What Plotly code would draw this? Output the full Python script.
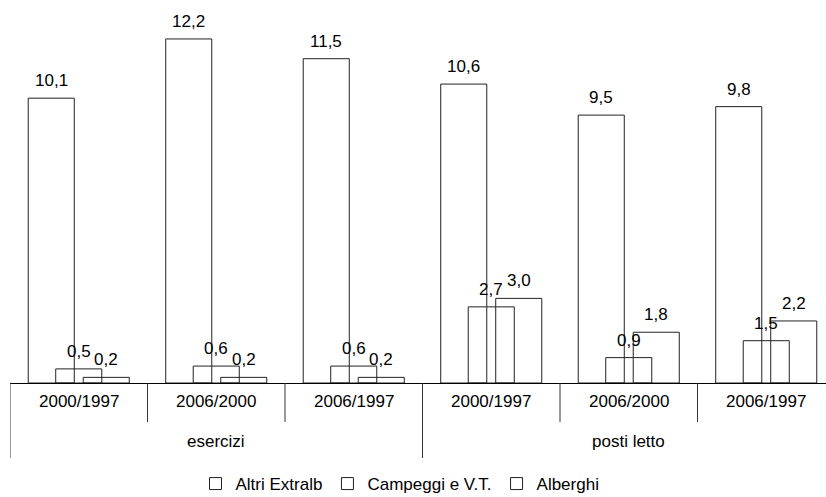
import plotly.graph_objects as go

# Data
periods = ["2000/1997", "2006/2000", "2006/1997", "2000/1997", "2006/2000", "2006/1997"]
groups = ["esercizi", "posti letto"]
series_names = ["Altri Extralb", "Campeggi e V.T.", "Alberghi"]
altri_extralb = [10.1, 12.2, 11.5, 10.6, 9.5, 9.8]
campeggi_vt = [0.5, 0.6, 0.6, 2.7, 0.9, 1.5]
alberghi = [0.2, 0.2, 0.2, 3.0, 1.8, 2.2]

FONT = "Arial, Liberation Sans, sans-serif"
FS = 17
W, H = 826, 497
ML, MR, MT, MB = 10, 0, 10, 114
cat_px = 137.5                      # pixel width of one category
plot_w = W - ML - MR
plot_h = H - MT - MB
x_range = [-0.5, -0.5 + plot_w / cat_px]
y_max = plot_h / 28.2
bar_w = 0.335
shift = 0.2


def fmt(v):
    return f"{v:.1f}".replace(".", ",")


fig = go.Figure()
annotations = []
all_series = [altri_extralb, campeggi_vt, alberghi]
for k, (name, vals) in enumerate(zip(series_names, all_series)):
    off = (k - 1) * shift
    xs = [i + off for i in range(len(periods))]
    fig.add_trace(go.Bar(
        name=name,
        x=xs,
        y=vals,
        width=bar_w,
        marker=dict(color="rgba(255,255,255,0)", line=dict(color="#222", width=1)),
    ))
    # value labels above each bar
    for x, v in zip(xs, vals):
        annotations.append(dict(
            x=x, y=v, xref="x", yref="y", text=fmt(v), showarrow=False,
            xanchor="center", yanchor="bottom", yshift=6,
            font=dict(family=FONT, size=FS, color="black"),
        ))

px_y = 1.0 / plot_h
shapes = []
# separators below the axis: short between periods, long at group edges
for b in range(len(periods) + 1):
    xb = b - 0.5
    long_line = b % 3 == 0
    shapes.append(dict(
        type="line", xref="x", yref="paper",
        x0=xb, x1=xb, y0=0, y1=-(75 if long_line else 39) * px_y,
        line=dict(color="#333", width=1),
    ))

for i, p in enumerate(periods):
    annotations.append(dict(
        x=i, y=-18 * px_y, xref="x", yref="paper", text=p, showarrow=False,
        xanchor="center", yanchor="middle",
        font=dict(family=FONT, size=FS, color="black"),
    ))
for g, name in enumerate(groups):
    annotations.append(dict(
        x=3 * g + 1, y=-58 * px_y, xref="x", yref="paper", text=name, showarrow=False,
        xanchor="center", yanchor="middle",
        font=dict(family=FONT, size=FS, color="black"),
    ))

fig.update_layout(
    width=W, height=H,
    margin=dict(l=ML, r=MR, t=MT, b=MB, autoexpand=False),
    paper_bgcolor="white", plot_bgcolor="white",
    barmode="overlay",
    showlegend=True,
    legend=dict(
        orientation="h", xref="container", yref="container",
        x=400 / W, xanchor="center", y=1 - 484 / H, yanchor="middle",
        font=dict(family=FONT, size=FS, color="black"),
        itemwidth=30, tracegroupgap=0,
    ),
    xaxis=dict(
        range=x_range, showgrid=False, zeroline=False, showticklabels=False,
        showline=True, linecolor="black", linewidth=1, ticks="",
    ),
    yaxis=dict(
        range=[0, y_max], visible=False, showgrid=False, zeroline=False,
    ),
    shapes=shapes,
    annotations=annotations,
)

fig.write_html("out.html")
